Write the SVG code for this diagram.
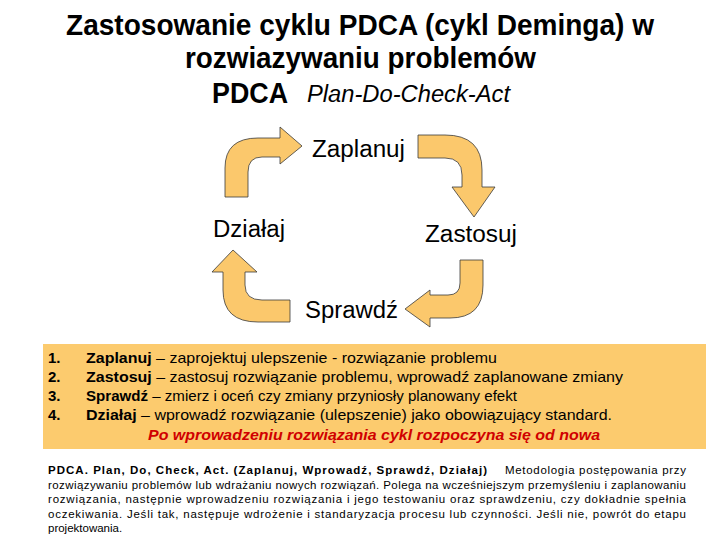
<svg xmlns="http://www.w3.org/2000/svg" width="720" height="540" viewBox="0 0 720 540">
<style>
  .t{font-family:"Liberation Sans",Arial,sans-serif;fill:#000}
  .title{font-size:29px;font-weight:bold}
  .lbl{font-size:23px}
  .arr{fill:#FBC86C;stroke:#3a3a3a;stroke-width:0.8;stroke-linejoin:miter}
  .li{font-size:15px}
  .p{font-size:11.5px}
</style>
<rect width="720" height="540" fill="#fff"/>
<g id="title">
  <text class="t title" x="66" y="35" textLength="588" lengthAdjust="spacingAndGlyphs">Zastosowanie cyklu PDCA (cykl Deminga) w</text>
  <text class="t title" x="185" y="68" textLength="351" lengthAdjust="spacingAndGlyphs">rozwiazywaniu problemów</text>
  <text class="t title" x="212" y="103" textLength="76" lengthAdjust="spacingAndGlyphs">PDCA</text>
  <text class="t" x="307" y="102" font-size="23" font-style="italic" textLength="203" lengthAdjust="spacingAndGlyphs">Plan-Do-Check-Act</text>
</g>
<g id="connectors">
  <path class="arr" d="M225,197 L225,168 Q225,138 258,138 L280,138 L280,127 L302,146 L280,164 L280,157 L262,157 Q248,157 248,172 L248,197 Z"/>
  <path class="arr" d="M418,135 L445,135 Q482,135 482,170 L482,187 L495,187 L474,217 L452,187 L462,187 L462,175 Q462,158 445,158 L418,158 Z"/>
  <path class="arr" d="M460,260 L483,260 L483,285 Q483,318 450,318 L430,318 L430,327 L405,309 L430,290 L430,295 L448,295 Q460,295 460,283 Z"/>
  <path class="arr" d="M290,300 L290,322 L258,322 Q223,322 223,290 L223,272 L212,272 L233,250 L257,272 L245,272 L245,285 Q245,300 262,300 Z"/>
</g>
<g id="zaplanuj"><text class="t lbl" x="312" y="157" textLength="93" lengthAdjust="spacingAndGlyphs">Zaplanuj</text></g>
<g id="zastosuj"><text class="t lbl" x="425" y="242" textLength="92" lengthAdjust="spacingAndGlyphs">Zastosuj</text></g>
<g id="sprawdz"><text class="t lbl" x="305" y="318" textLength="93" lengthAdjust="spacingAndGlyphs">Sprawdź</text></g>
<g id="dzialaj"><text class="t lbl" x="213" y="237" textLength="72" lengthAdjust="spacingAndGlyphs">Działaj</text></g>
<g id="list">
  <rect x="43" y="344" width="663" height="105" fill="#FCCB6E"/>
  <text class="t li" x="48" y="363" font-weight="bold">1.</text>
  <text class="t li" x="48" y="382" font-weight="bold">2.</text>
  <text class="t li" x="48" y="401" font-weight="bold">3.</text>
  <text class="t li" x="48" y="420" font-weight="bold">4.</text>
  <text class="t li" x="86" y="363" textLength="411" lengthAdjust="spacingAndGlyphs"><tspan font-weight="bold">Zaplanuj</tspan> – zaprojektuj ulepszenie - rozwiązanie problemu</text>
  <text class="t li" x="86" y="382" textLength="537" lengthAdjust="spacingAndGlyphs"><tspan font-weight="bold">Zastosuj</tspan> – zastosuj rozwiązanie problemu, wprowadź zaplanowane zmiany</text>
  <text class="t li" x="86" y="401" textLength="431" lengthAdjust="spacingAndGlyphs"><tspan font-weight="bold">Sprawdź</tspan> – zmierz i oceń czy zmiany przyniosły planowany efekt</text>
  <text class="t li" x="86" y="420" textLength="526" lengthAdjust="spacingAndGlyphs"><tspan font-weight="bold">Działaj</tspan> – wprowadź rozwiązanie (ulepszenie) jako obowiązujący standard.</text>
  <text class="t li" x="148" y="440" textLength="452" lengthAdjust="spacingAndGlyphs" font-weight="bold" font-style="italic" style="fill:#D00000">Po wprowadzeniu rozwiązania cykl rozpoczyna się od nowa</text>
</g>
<g id="description">
  <text class="t p" x="48" y="474" font-weight="bold" textLength="439" lengthAdjust="spacing">PDCA. Plan, Do, Check, Act. (Zaplanuj, Wprowadź, Sprawdź, Działaj)</text>
  <text class="t p" x="505" y="474" textLength="181" lengthAdjust="spacing">Metodologia postępowania przy</text>
  <text class="t p" x="48" y="489" textLength="638" lengthAdjust="spacing">rozwiązywaniu problemów lub wdrażaniu nowych rozwiązań. Polega na wcześniejszym przemyśleniu i zaplanowaniu</text>
  <text class="t p" x="48" y="503" textLength="638" lengthAdjust="spacing">rozwiązania, następnie wprowadzeniu rozwiązania i jego testowaniu oraz sprawdzeniu, czy dokładnie spełnia</text>
  <text class="t p" x="48" y="518" textLength="638" lengthAdjust="spacing">oczekiwania. Jeśli tak, następuje wdrożenie i standaryzacja procesu lub czynności. Jeśli nie, powrót do etapu</text>
  <text class="t p" x="48" y="532">projektowania.</text>
</g>
</svg>
